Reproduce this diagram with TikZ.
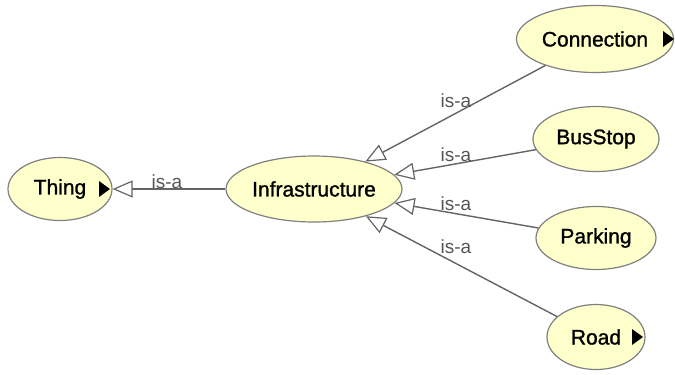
\documentclass[tikz,border=0pt]{standalone}
\usepackage{fontspec}
\setmainfont{Liberation Sans}
\newfontfamily\clsfont[FakeBold=1.2]{Liberation Sans}
\usetikzlibrary{shapes.geometric,arrows.meta}
\definecolor{nodefill}{RGB}{255,255,204}
\definecolor{nodeline}{RGB}{128,128,128}
\definecolor{edgeline}{RGB}{100,100,100}
\definecolor{lblcol}{RGB}{85,85,85}
\tikzset{
  cls/.style={ellipse, draw=nodeline, fill=nodefill, line width=1.2pt, inner sep=0pt,
    font=\clsfont\fontsize{21}{24}\selectfont, text=black},
  isa/.style={draw=edgeline, line width=1.4pt,
    -{Triangle[open, length=20pt, width=17pt, line width=1.2pt]}},
  lbl/.style={font=\fontsize{19}{21}\selectfont, text=lblcol, inner sep=0pt},
  more/.style={fill=black}
}
\begin{document}
\begin{tikzpicture}[x=1pt,y=-1pt]
\useasboundingbox (0,0) rectangle (675,375);
\node[cls, minimum width=104pt, minimum height=63pt] (thing) at (60,189) {Thing};
\node[cls, minimum width=176pt, minimum height=66pt] (infra) at (314,189) {Infrastructure};
\node[cls, minimum width=157pt, minimum height=67pt] (conn) at (595,39) {Connection};
\node[cls, minimum width=126pt, minimum height=65pt] (bus) at (596,139) {BusStop};
\node[cls, minimum width=120pt, minimum height=63pt] (park) at (596,238) {Parking};
\node[cls, minimum width=98pt, minimum height=65pt] (road) at (596,337) {Road};
% expand markers
\fill[more] (99,181) -- (110,189) -- (99,197) -- cycle;
\fill[more] (663,31) -- (674,39) -- (663,47) -- cycle;
\fill[more] (632,329) -- (643,337) -- (632,345) -- cycle;
% edges
\draw[isa] (infra) -- (thing);
\draw[isa] (conn) -- (infra);
\draw[isa] (bus) -- (infra);
\draw[isa] (park) -- (infra);
\draw[isa] (road) -- (infra);
% labels
\node[lbl] (l0) at (167,182) {is-a};
\node[lbl] (l1) at (456,101) {is-a};
\node[lbl] (l2) at (456,155) {is-a};
\node[lbl] (l3) at (456,204) {is-a};
\node[lbl] (l4) at (456,247) {is-a};
\end{tikzpicture}
\end{document}
